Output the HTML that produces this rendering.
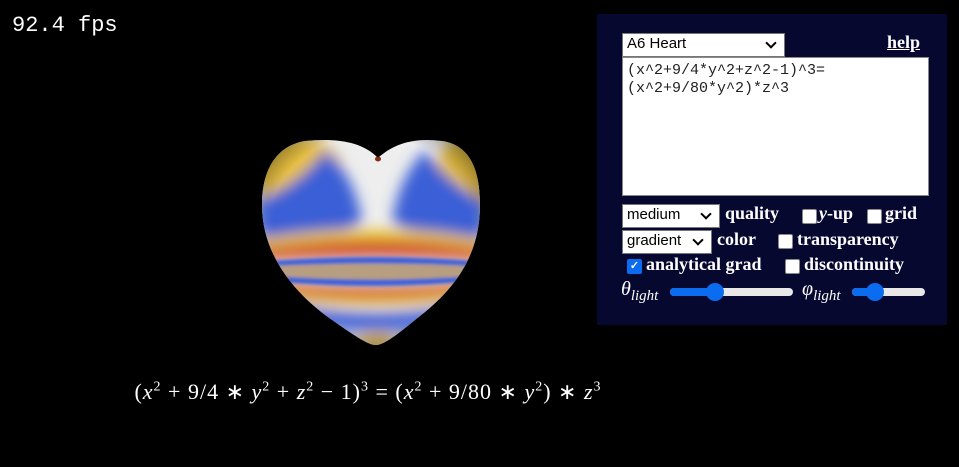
<!DOCTYPE html>
<html><head><meta charset="utf-8"><style>
body{margin:0;width:959px;height:467px;background:#000;overflow:hidden;position:relative;font-family:"Liberation Serif",serif}
.abs{position:absolute}
#fps{left:12px;top:13px;color:#fff;font:22px "Liberation Mono",monospace}
#panel{left:597px;top:14px;width:350px;height:311px;background:#060830}
.sel{position:absolute;background:#fff;border:1px solid #767676;font:15px "Liberation Sans",sans-serif;color:#000;box-sizing:border-box;padding:1px 4px}
.sel:after{content:"";position:absolute;right:9px;top:5px;width:6px;height:6px;border-right:2px solid #000;border-bottom:2px solid #000;transform:rotate(45deg)}
.lbl{position:absolute;color:#fff;font-size:18px}
.cb{position:absolute;width:13px;height:13px;background:#fff;border-radius:2px;border:1px solid #888}
.rng{position:absolute;height:8px;background:#e8e8e8;border-radius:4px}
.rng .f{position:absolute;left:0;top:0;height:8px;background:#0b6cf0;border-radius:4px}
.rng .k{position:absolute;top:-5px;width:18px;height:18px;border-radius:50%;background:#0b6cf0}
#eq{left:0;width:736px;top:379px;text-align:center;color:#fff;font:22px "Liberation Serif",serif;letter-spacing:1px}
#eq i{font-style:italic}
#eq sup{font-size:14px}
</style></head><body>
<div id="fps" class="abs">92.4 fps</div>

<svg class="abs" style="left:0;top:0" width="959" height="467">
<defs>
<clipPath id="hc"><path d="M378,158 C362,141 335,138 305,141 C275,146 262,172 262,205 C262,255 295,295 335,322 C355,336 368,345 376,345 C384,345 398,334 415,320 C452,292 480,258 480,205 C480,170 470,145 442,141 C412,137 392,145 378,158 Z"/></clipPath>
<filter id="bl" x="-20%" y="-20%" width="140%" height="140%"><feGaussianBlur stdDeviation="7"/></filter>
<filter id="bl2"><feGaussianBlur stdDeviation="1.5"/></filter>
<radialGradient id="shade" cx="0.5" cy="0.45" r="0.6"><stop offset="0.75" stop-color="#000" stop-opacity="0"/><stop offset="1" stop-color="#000" stop-opacity="0.5"/></radialGradient>
</defs>
<g clip-path="url(#hc)">
<rect x="255" y="135" width="230" height="215" fill="#eeeeee"/>
<g filter="url(#bl)">
<ellipse cx="298" cy="172" rx="45" ry="35" fill="#e8c040"/>
<ellipse cx="468" cy="172" rx="32" ry="35" fill="#e8c040"/>
<path d="M258,200 Q300,185 325,150 Q355,175 362,222 Q330,240 258,238Z" fill="#3a5fd6"/>
<path d="M484,200 Q450,185 425,150 Q398,178 392,222 Q425,240 484,238Z" fill="#3a5fd6"/>
<path d="M255,240 Q378,218 485,240 L485,252 L255,252Z" fill="#e8c640"/>
<path d="M255,250 Q378,232 485,250 L485,260 Q378,250 255,260Z" fill="#cc1818"/>
<path d="M255,282 Q378,296 485,282 L485,296 Q378,316 255,296Z" fill="#e8c640"/>
<path d="M255,281 Q378,294 485,281 L485,289 Q378,306 255,289Z" fill="#cc1818"/>
<path d="M270,300 Q378,325 480,300 L480,320 Q378,345 270,320Z" fill="#4a68d6"/>
<ellipse cx="376" cy="342" rx="20" ry="9" fill="#e6c04a"/>
</g>
<g filter="url(#bl2)">
<path d="M255,262 Q378,252 485,262 L485,280 Q378,292 255,280Z" fill="#3d62d8"/>
<path d="M255,267 Q378,260 485,267 L485,275 Q378,284 255,275Z" fill="#b89e80"/>
</g>
<rect x="255" y="135" width="230" height="215" fill="url(#shade)"/>
<ellipse cx="378" cy="159" rx="3" ry="2.5" fill="#8a2a10"/>
</g>
</svg>

<div id="eq" class="abs">(<i>x</i><sup>2</sup> + 9/4 ∗ <i>y</i><sup>2</sup> + <i>z</i><sup>2</sup> − 1)<sup>3</sup> = (<i>x</i><sup>2</sup> + 9/80 ∗ <i>y</i><sup>2</sup>) ∗ <i>z</i><sup>3</sup></div>

<div id="panel" class="abs">
<div class="sel" style="left:25px;top:19px;width:163px;height:24px">A6 Heart</div>
<div class="lbl" style="left:290px;top:18px;text-decoration:underline;font-weight:bold">help</div>
<div style="position:absolute;left:25px;top:43px;width:307px;height:139px;background:#fff;border:1px solid #888;box-sizing:border-box;padding:4px;font:15px 'Liberation Mono',monospace;line-height:18px;color:#222">(x^2+9/4*y^2+z^2-1)^3=<br>(x^2+9/80*y^2)*z^3</div>
<div class="sel" style="left:25px;top:190px;width:98px;height:24px">medium</div>
<div class="lbl" style="left:128px;top:189px;font-weight:bold">quality</div>
<div class="cb" style="left:205px;top:195px"></div>
<div class="lbl" style="left:222px;top:189px;font-weight:bold"><i>y</i>-up</div>
<div class="cb" style="left:270px;top:195px"></div>
<div class="lbl" style="left:288px;top:189px;font-weight:bold">grid</div>
<div class="sel" style="left:25px;top:216px;width:90px;height:24px">gradient</div>
<div class="lbl" style="left:120px;top:215px;font-weight:bold">color</div>
<div class="cb" style="left:181px;top:220px"></div>
<div class="lbl" style="left:200px;top:215px;font-weight:bold">transparency</div>
<div class="cb" style="left:30px;top:245px;background:#0b6cf0;border-color:#0b6cf0;color:#fff;font:bold 11px sans-serif;text-align:center;line-height:13px">✓</div>
<div class="lbl" style="left:49px;top:240px;font-weight:bold">analytical grad</div>
<div class="cb" style="left:188px;top:245px"></div>
<div class="lbl" style="left:207px;top:240px;font-weight:bold">discontinuity</div>
<div class="lbl" style="left:24px;top:264px;font-style:italic;font-size:20px">θ<sub style="font-size:15px">light</sub></div>
<div class="rng" style="left:73px;top:274px;width:123px"><div class="f" style="width:45px"></div><div class="k" style="left:36px"></div></div>
<div class="lbl" style="left:205px;top:264px;font-style:italic;font-size:20px">φ<sub style="font-size:15px">light</sub></div>
<div class="rng" style="left:255px;top:274px;width:73px"><div class="f" style="width:25px"></div><div class="k" style="left:14px"></div></div>
</div>
</body></html>
